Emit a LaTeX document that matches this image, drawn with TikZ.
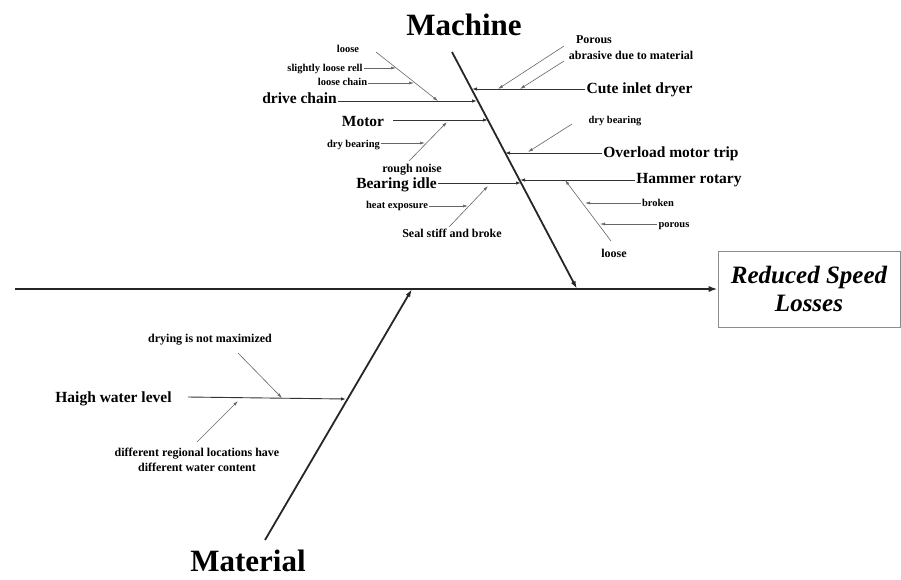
\documentclass[tikz,border=0pt]{standalone}
\usepackage{fontspec}
\setmainfont{Liberation Serif}
\usetikzlibrary{arrows.meta, positioning, calc}

\begin{document}
\begin{tikzpicture}[x=1pt, y=-1pt,
    cat/.style={font=\fontsize{31}{34}\selectfont\bfseries, inner sep=0pt},
    cause/.style={font=\fontsize{15.5}{18}\selectfont\bfseries, inner sep=1pt},
    note/.style={font=\fontsize{12}{15}\selectfont\bfseries, inner sep=1pt},
    sub/.style={font=\fontsize{10.5}{12}\selectfont\bfseries, inner sep=1pt},
    effect/.style={draw=black!45, line width=0.6pt, minimum width=182, minimum height=76,
        align=center, font=\fontsize{25}{28}\selectfont\bfseries\itshape},
    spine/.style={line width=2.4pt, draw=black!85, -{Latex[length=9pt,width=6pt]}},
    bone/.style={line width=1.8pt, draw=black!85, -{Latex[length=8pt,width=5pt]}},
    branch/.style={line width=0.9pt, draw=black!80, -{Latex[length=5pt,width=3.5pt]}},
    twig/.style={line width=0.6pt, draw=black!60, -{Latex[length=5pt,width=3pt]}}]

    \useasboundingbox (0,0) rectangle (901,579);

    % ==========================================
    % Spine and effect
    % ==========================================
    \coordinate (tail) at (15,289);
    \node[effect] (res) at (809,289) {Reduced Speed\\Losses};
    \draw[spine] (tail) -- (res.west);

    % ==========================================
    % Machine (top)
    % ==========================================
    \node[cat, anchor=base] (mach) at (464,35) {Machine};
    \coordinate (m-top) at (452,52);
    \coordinate (m-end) at (577,289);
    \draw[bone] (m-top) -- (m-end);

    % left causes
    \node[sub, anchor=base] (loose1) at (348,52) {loose};
    \node[sub, anchor=base] (rell) at (325,71) {slightly loose rell};
    \node[sub, anchor=base] (lchain) at (342.5,85) {loose chain};
    \node[cause, anchor=base] (chain) at (299.5,103) {drive chain};
    \coordinate (loose1-s) at (376,52);
    \coordinate (loose1-t) at (438,101);
    \coordinate (rell-t) at (396,68);
    \coordinate (lchain-t) at (414,83);
    \coordinate (chain-t) at (477,101);
    \draw[branch] (chain.east |- chain-t) -- (chain-t);
    \draw[twig] (loose1-s) -- (loose1-t);
    \draw[twig] (rell.east |- rell-t) -- (rell-t);
    \draw[twig] (lchain.east |- lchain-t) -- (lchain-t);

    \node[cause, anchor=base] (motor) at (363,126) {Motor};
    \node[sub, anchor=base] (drybl) at (353.5,147) {dry bearing};
    \node[note, anchor=base] (noise) at (412,172.5) {rough noise};
    \coordinate (motor-s) at (393,120);
    \coordinate (motor-t) at (488,120);
    \coordinate (drybl-t) at (425,143);
    \coordinate (noise-s) at (409,161);
    \coordinate (noise-t) at (447,122);
    \draw[branch] (motor-s) -- (motor-t);
    \draw[twig] (drybl.east |- drybl-t) -- (drybl-t);
    \draw[twig] (noise-s) -- (noise-t);

    \node[cause, anchor=base] (idle) at (396.5,188) {Bearing idle};
    \node[sub, anchor=base] (heat) at (397,208) {heat exposure};
    \node[note, anchor=base] (seal) at (452,237) {Seal stiff and broke};
    \coordinate (idle-t) at (521,183);
    \coordinate (heat-t) at (468,206);
    \coordinate (seal-s) at (449,227);
    \coordinate (seal-t) at (488,186);
    \draw[branch] (idle.east |- idle-t) -- (idle-t);
    \draw[twig] (heat.east |- heat-t) -- (heat-t);
    \draw[twig] (seal-s) -- (seal-t);

    % right causes
    \node[note, anchor=base] (porous1) at (594,43) {Porous};
    \node[note, anchor=base] (abras) at (631,59) {abrasive due to material};
    \node[cause, anchor=base] (inlet) at (639.5,93) {Cute inlet dryer};
    \coordinate (porous1-s) at (564,46);
    \coordinate (porous1-t) at (498,89);
    \coordinate (abras-s) at (564,61);
    \coordinate (abras-t) at (520,89);
    \coordinate (inlet-t) at (472,89);
    \draw[branch] (inlet.west |- inlet-t) -- (inlet-t);
    \draw[twig] (porous1-s) -- (porous1-t);
    \draw[twig] (abras-s) -- (abras-t);

    \node[sub, anchor=base] (drybr) at (615,123) {dry bearing};
    \node[cause, anchor=base] (trip) at (671,157) {Overload motor trip};
    \coordinate (drybr-s) at (572,124);
    \coordinate (drybr-t) at (528,152);
    \coordinate (trip-t) at (505,153);
    \draw[branch] (trip.west |- trip-t) -- (trip-t);
    \draw[twig] (drybr-s) -- (drybr-t);

    \node[cause, anchor=base] (hammer) at (689,183) {Hammer rotary};
    \node[sub, anchor=base] (broken) at (658,206) {broken};
    \node[sub, anchor=base] (porous2) at (674,227) {porous};
    \node[note, anchor=base] (loose2) at (614,257) {loose};
    \coordinate (hammer-t) at (520,180);
    \coordinate (loose2-s) at (611,241);
    \coordinate (loose2-t) at (565,180);
    \coordinate (broken-t) at (585,203);
    \coordinate (porous2-t) at (600,224);
    \draw[branch] (hammer.west |- hammer-t) -- (hammer-t);
    \draw[twig] (loose2-s) -- (loose2-t);
    \draw[twig] (broken.west |- broken-t) -- (broken-t);
    \draw[twig] (porous2.west |- porous2-t) -- (porous2-t);

    % ==========================================
    % Material (bottom)
    % ==========================================
    \node[cat, anchor=base] (mat) at (248,571) {Material};
    \coordinate (t-bot) at (265,540);
    \coordinate (t-join) at (412,289);
    \draw[bone] (t-bot) -- (t-join);

    \node[cause, anchor=base] (water) at (113.5,402) {Haigh water level};
    \node[note, anchor=base] (drying) at (210,342) {drying is not maximized};
    \node[note, align=center] (region) at (197,460) {different regional locations have\\different water content};
    \coordinate (water-s) at (188,397);
    \coordinate (water-t) at (346,399);
    \coordinate (drying-s) at (238,353);
    \coordinate (drying-t) at (282,398);
    \coordinate (region-s) at (197,442);
    \coordinate (region-t) at (238,401);
    \draw[branch] (water-s) -- (water-t);
    \draw[twig] (drying-s) -- (drying-t);
    \draw[twig] (region-s) -- (region-t);

\end{tikzpicture}
\end{document}
